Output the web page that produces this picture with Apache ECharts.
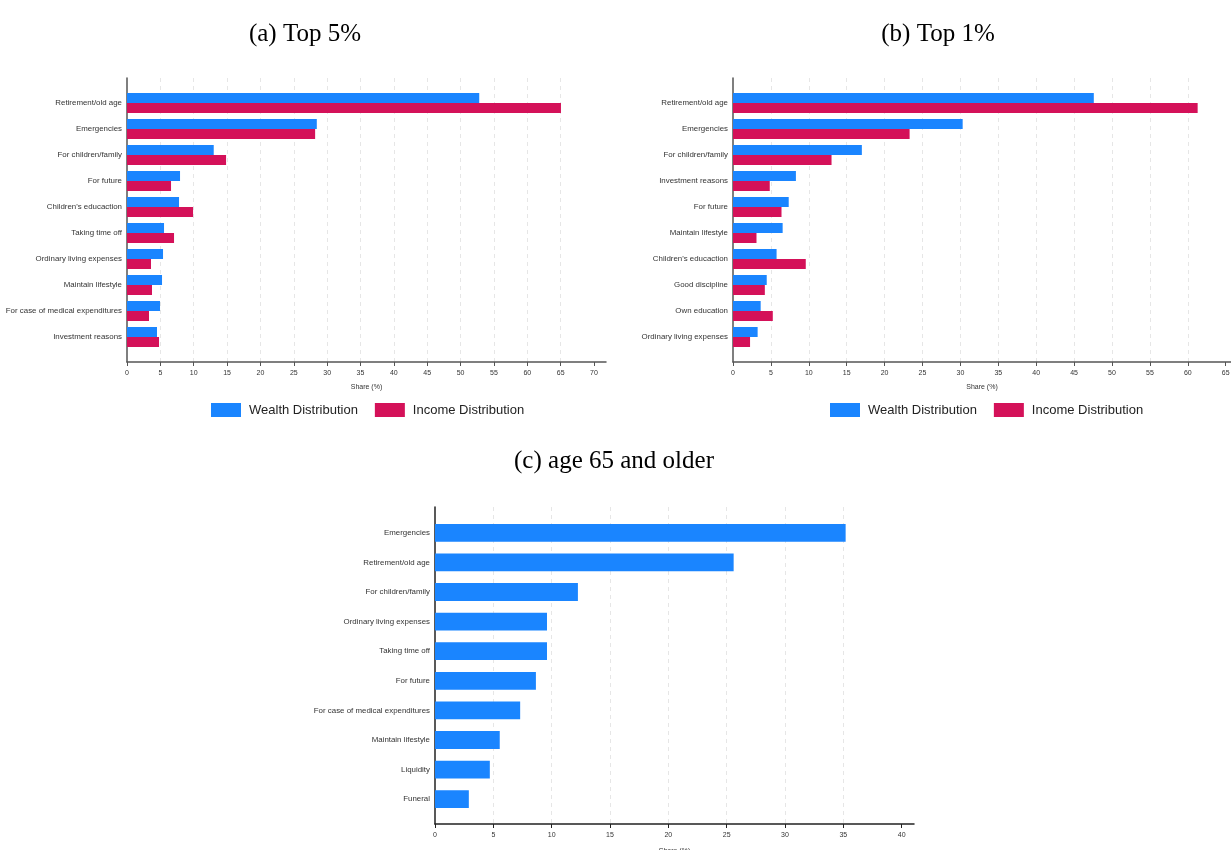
<!DOCTYPE html>
<html>
<head>
<meta charset="utf-8">
<script src="https://cdn.jsdelivr.net/npm/echarts@6/dist/echarts.min.js"></script>
<style>
  html, body { margin: 0; padding: 0; background: #fff; }
  #chart { width: 1231px; height: 850px; }
</style>
</head>
<body>
<div id="chart"></div>
<script>
// Reasons for saving, share of respondents (%)
const catsTop5 = ['Retirement/old age', 'Emergencies', 'For children/family', 'For future',
  "Children's educaction", 'Taking time off', 'Ordinary living expenses', 'Maintain lifestyle',
  'For case of medical expenditures', 'Investment reasons'];
const wealthTop5 = [52.8, 28.45, 13.0, 7.95, 7.8, 5.55, 5.4, 5.25, 4.95, 4.5];
const incomeTop5 = [65.05, 28.2, 14.85, 6.6, 9.9, 7.05, 3.6, 3.75, 3.3, 4.8];

const catsTop1 = ['Retirement/old age', 'Emergencies', 'For children/family', 'Investment reasons',
  'For future', 'Maintain lifestyle', "Children's educaction", 'Good discipline',
  'Own education', 'Ordinary living expenses'];
const wealthTop1 = [47.6, 30.3, 17.0, 8.3, 7.35, 6.55, 5.75, 4.45, 3.65, 3.25];
const incomeTop1 = [61.3, 23.3, 13.0, 4.85, 6.4, 3.1, 9.6, 4.2, 5.25, 2.25];

const catsOld = ['Emergencies', 'Retirement/old age', 'For children/family', 'Ordinary living expenses',
  'Taking time off', 'For future', 'For case of medical expenditures', 'Maintain lifestyle',
  'Liquidity', 'Funeral'];
const wealthOld = [35.2, 25.6, 12.25, 9.6, 9.6, 8.65, 7.3, 5.55, 4.7, 2.9];

const ticksA = [0, 5, 10, 15, 20, 25, 30, 35, 40, 45, 50, 55, 60, 65, 70];
const ticksB = [0, 5, 10, 15, 20, 25, 30, 35, 40, 45, 50, 55, 60, 65];
const ticksC = [0, 5, 10, 15, 20, 25, 30, 35, 40];

const BLUE = '#1a85ff';
const RED = '#d41159';
const LABEL = '#333333';

// Panel extents on the value axis
const maxA = 71.8, maxB = 65.7, maxC = 41.06;

const chart = echarts.init(document.getElementById('chart'));

// "frame" grids carry the axis lines, ticks and dashed grid lines;
// "data" grids hold the category bands and bars.
// Fixed boxes: labels and axis names may run to the canvas edge.
const boxes = [
  { left: 127, top: 78, width: 479, height: 284 },   // 0 (a) frame
  { left: 127, top: 90, width: 479, height: 260 },   // 1 (a) data
  { left: 733, top: 78, width: 498, height: 284 },   // 2 (b) frame
  { left: 733, top: 90, width: 498, height: 260 },   // 3 (b) data
  { left: 435, top: 507, width: 479, height: 317 },  // 4 (c) frame
  { left: 435, top: 518, width: 479, height: 296 }   // 5 (c) data
];
const grids = boxes.map(b => Object.assign({ containLabel: false, outerBoundsMode: 'none' }, b));

function frameX(gridIndex, max, ticks, lineColor, nameGap) {
  return {
    type: 'value', gridIndex, min: 0, max, interval: 5,
    axisLine: { show: true, onZero: false, lineStyle: { color: lineColor, width: 1.5 } },
    axisTick: { show: true, length: 4, customValues: ticks, lineStyle: { color: lineColor, width: 1 } },
    axisLabel: { customValues: ticks, fontSize: 7, color: LABEL, margin: 8, fontFamily: 'Liberation Sans' },
    splitLine: { show: true, showMinLine: false, showMaxLine: false,
      lineStyle: { type: [4, 4], color: '#e6e6e6', width: 1 } },
    name: 'Share (%)', nameLocation: 'middle', nameGap: nameGap,
    nameTextStyle: { fontSize: 7, color: LABEL, fontFamily: 'Liberation Sans' }
  };
}
function frameY(gridIndex, lineColor) {
  return {
    type: 'value', gridIndex, min: 0, max: 1,
    axisLine: { show: true, onZero: false, lineStyle: { color: lineColor, width: 1.5 } },
    axisTick: { show: false }, axisLabel: { show: false }, splitLine: { show: false }
  };
}
function dataX(gridIndex, max) {
  return { type: 'value', gridIndex, min: 0, max, show: false, splitLine: { show: false } };
}
function dataY(gridIndex, cats) {
  return {
    type: 'category', gridIndex, data: cats, inverse: true,
    axisLine: { show: false }, axisTick: { show: false }, splitLine: { show: false },
    axisLabel: { fontSize: 7.9, color: LABEL, margin: 5, fontFamily: 'Liberation Sans' }
  };
}

const titleStyle = { fontFamily: 'Liberation Serif', fontSize: 25, fontWeight: 'normal', color: '#000' };
const legendText = { fontSize: 13, color: '#222', fontFamily: 'Liberation Sans', padding: [0, 0, 0, 3] };

const option = {
  backgroundColor: '#ffffff',
  animation: false,
  title: [
    { text: '(a) Top 5%', left: 300, top: 17, textAlign: 'center', textStyle: titleStyle },
    { text: '(b) Top 1%', left: 933, top: 17, textAlign: 'center', textStyle: titleStyle },
    { text: '(c) age 65 and older', left: 609, top: 444, textAlign: 'center', textStyle: titleStyle }
  ],
  legend: [
    { left: 206, top: 398, itemWidth: 30, itemHeight: 14, itemGap: 17, icon: 'rect',
      data: ['Wealth Distribution', 'Income Distribution'], textStyle: legendText },
    { left: 825, top: 398, itemWidth: 30, itemHeight: 14, itemGap: 17, icon: 'rect',
      data: ['Wealth Distribution', 'Income Distribution'], textStyle: legendText }
  ],
  grid: grids,
  xAxis: [
    frameX(0, maxA, ticksA, '#555', 22), dataX(1, maxA),
    frameX(2, maxB, ticksB, '#555', 22), dataX(3, maxB),
    frameX(4, maxC, ticksC, '#222', 24), dataX(5, maxC)
  ],
  yAxis: [
    frameY(0, '#555'), dataY(1, catsTop5),
    frameY(2, '#555'), dataY(3, catsTop1),
    frameY(4, '#222'), dataY(5, catsOld)
  ],
  series: [
    { name: 'Wealth Distribution', type: 'bar', xAxisIndex: 1, yAxisIndex: 1, data: wealthTop5,
      itemStyle: { color: BLUE }, barGap: '0%', barCategoryGap: '23%' },
    { name: 'Income Distribution', type: 'bar', xAxisIndex: 1, yAxisIndex: 1, data: incomeTop5,
      itemStyle: { color: RED }, barGap: '0%', barCategoryGap: '23%' },
    { name: 'Wealth Distribution', type: 'bar', xAxisIndex: 3, yAxisIndex: 3, data: wealthTop1,
      itemStyle: { color: BLUE }, barGap: '0%', barCategoryGap: '23%' },
    { name: 'Income Distribution', type: 'bar', xAxisIndex: 3, yAxisIndex: 3, data: incomeTop1,
      itemStyle: { color: RED }, barGap: '0%', barCategoryGap: '23%' },
    { name: 'Wealth Distribution', type: 'bar', xAxisIndex: 5, yAxisIndex: 5, data: wealthOld,
      itemStyle: { color: BLUE }, barCategoryGap: '40%' }
  ]
};

chart.setOption(option);
</script>
</body>
</html>
